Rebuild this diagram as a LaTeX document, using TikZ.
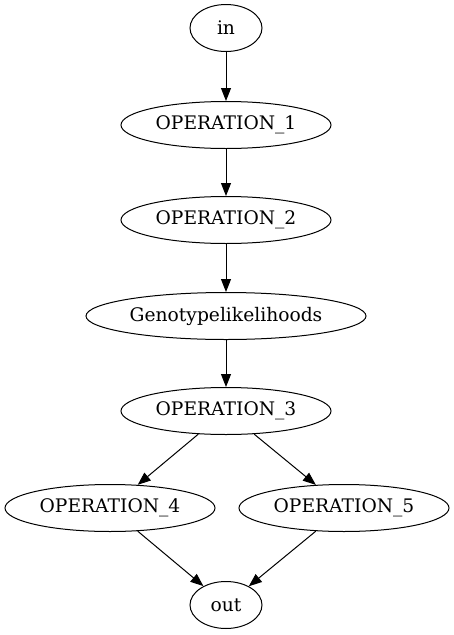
\documentclass[tikz,border=0pt]{standalone}
\usepackage{fontspec}
\setmainfont{DejaVu Serif}
\usetikzlibrary{shapes.geometric,arrows.meta}
\begin{document}
\begin{tikzpicture}[x=1pt,y=-1pt,
  op/.style={ellipse,draw,line width=1pt,inner sep=0pt,
    minimum height=47pt,font=\fontsize{18.67}{22}\selectfont},
  wide/.style={op,minimum width=210pt},
  small/.style={op,minimum width=72pt},
  flow/.style={-{Triangle[length=13pt,width=10pt]},line width=1pt}]
\useasboundingbox (0,0) rectangle (454,635);
\node[small] (in)   at (226,28)  {in};
\node[wide]  (op1)  at (226,125) {OPERATION\_1};
\node[wide]  (op2)  at (226,220) {OPERATION\_2};
\node[op,minimum width=280pt] (geno) at (226,316) {Genotypelikelihoods};
\node[wide]  (op3)  at (226,411) {OPERATION\_3};
\node[wide]  (op4)  at (110,508) {OPERATION\_4};
\node[wide]  (op5)  at (344,508) {OPERATION\_5};
\node[small] (out)  at (226,605) {out};
\draw[flow] (in) -- (op1);
\draw[flow] (op1) -- (op2);
\draw[flow] (op2) -- (geno);
\draw[flow] (geno) -- (op3);
\draw[flow] (op3) -- (op4);
\draw[flow] (op3) -- (op5);
\draw[flow] (op4) -- (out);
\draw[flow] (op5) -- (out);
\end{tikzpicture}
\end{document}
